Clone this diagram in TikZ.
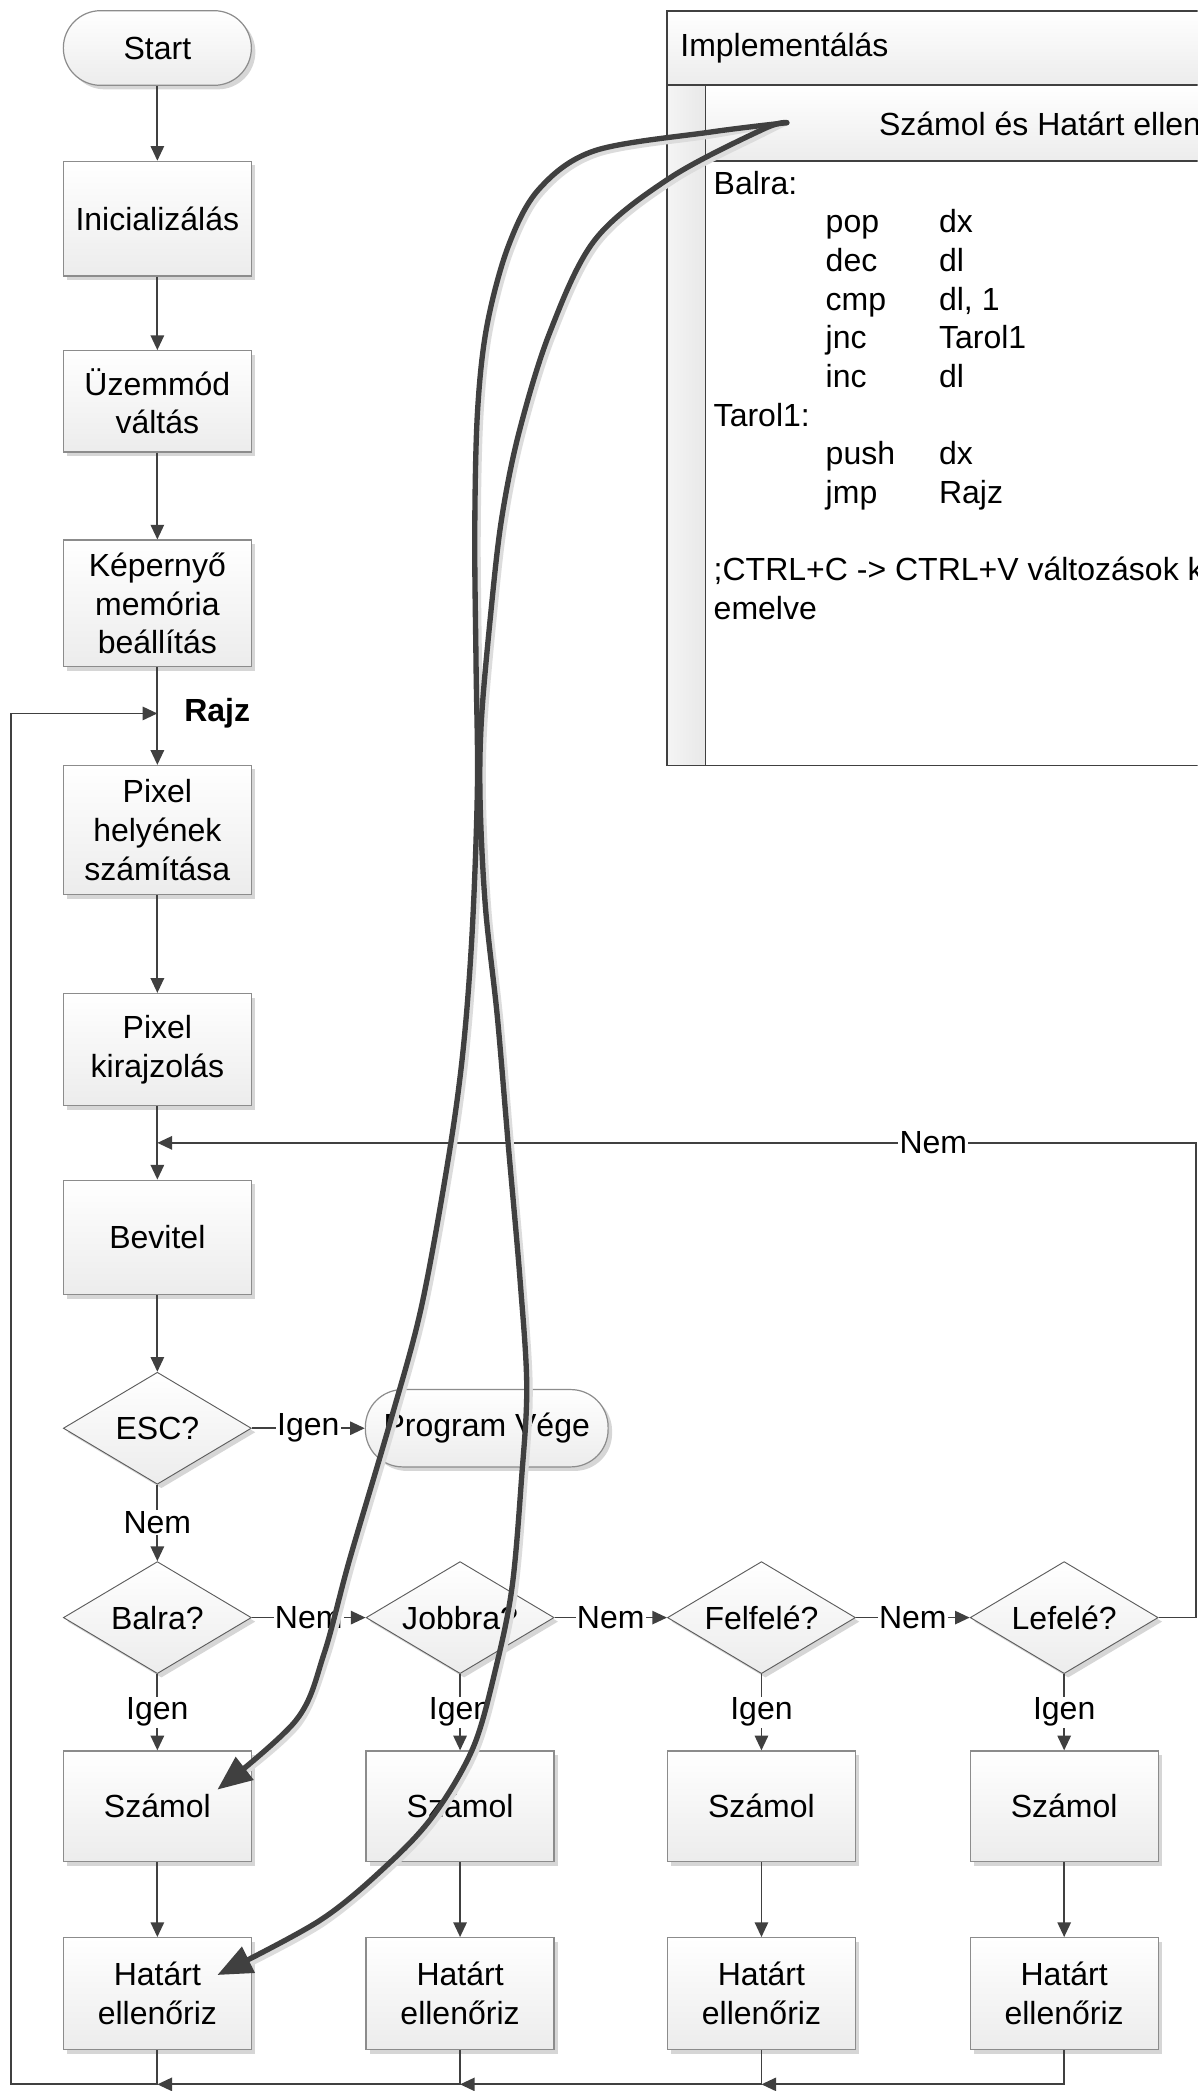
\documentclass[tikz,border=0pt]{standalone}
\usepackage{fontspec}
\setmainfont{Liberation Sans}
\usetikzlibrary{shapes.geometric,arrows.meta,shadows,calc}
\definecolor{ink}{HTML}{404040}
\definecolor{rim}{HTML}{8C8C8C}
\definecolor{shadelo}{HTML}{ECECEC}
\definecolor{halo}{HTML}{DCDCDC}

\tikzset{
  softshadow/.style={drop shadow={shadow xshift=3pt,shadow yshift=-3pt,opacity=0.16,fill=black}},
  proc/.style={rectangle, draw=rim, line width=0.9pt, top color=white, bottom color=shadelo,
    minimum width=141pt, inner sep=2pt, align=center, softshadow},
  term/.style={proc, rounded corners=28pt, minimum height=56pt},
  decision/.style={diamond, draw=ink!85, line width=0.7pt, top color=white, bottom color=shadelo,
    minimum width=141pt, minimum height=84pt, aspect=1.68, inner sep=0pt, softshadow},
  flow/.style={draw=ink, line width=1.3pt, -{Triangle[length=11pt,width=10pt]}},
  wire/.style={draw=ink, line width=1.3pt},
  tag/.style={fill=white, inner sep=1pt},
  codeline/.style={anchor=base west, inner sep=0pt},
  jump/.style={draw=ink, line width=4pt, line cap=round, -{Triangle[length=26pt,width=21pt]}},
  jumpshade/.style={draw=halo, line width=4pt, line cap=round},
}

\begin{document}
\begin{tikzpicture}[x=1pt, y=-1pt, font=\fontsize{24}{29}\selectfont]
\useasboundingbox (0,0) rectangle (898,1568);
\fill[white] (0,0) rectangle (898,1568);

% ---- implementation panel ----
\begin{scope}
  \clip (0,0) rectangle (898,1568);
  \shade[top color=white, bottom color=shadelo] (500,8) rectangle (960,64);
  \shade[left color=white!96!black, right color=black!9] (500,64) rectangle (529,574);
  \shade[top color=white, bottom color=shadelo] (529,64) rectangle (960,121);
  \draw[ink, line width=1.3pt] (500,8) rectangle (960,574);
  \draw[ink, line width=1.3pt] (500,64) -- (960,64);
  \draw[ink, line width=1.3pt] (529,64) -- (529,574);
  \draw[ink, line width=1.3pt] (529,121) -- (960,121);
\end{scope}
\node[anchor=west, inner sep=0pt] (ttl) at (510,36) {Implementálás};
\node[anchor=west, inner sep=0pt] (hdr) at (659,93) {Számol és Határt ellen};

\node[codeline] (l0)  at (535,145.5) {Balra:};
\node[codeline] (l1a) at (619,174.5) {pop};   \node[codeline] (l1b) at (704,174.5) {dx};
\node[codeline] (l2a) at (619,203.5) {dec};   \node[codeline] (l2b) at (704,203.5) {dl};
\node[codeline] (l3a) at (619,232.5) {cmp};   \node[codeline] (l3b) at (704,232.5) {dl, 1};
\node[codeline] (l4a) at (619,261.5) {jnc};   \node[codeline] (l4b) at (704,261.5) {Tarol1};
\node[codeline] (l5a) at (619,290.5) {inc};   \node[codeline] (l5b) at (704,290.5) {dl};
\node[codeline] (l6)  at (535,319.5) {Tarol1:};
\node[codeline] (l7a) at (619,348.5) {push};  \node[codeline] (l7b) at (704,348.5) {dx};
\node[codeline] (l8a) at (619,377.5) {jmp};   \node[codeline] (l8b) at (704,377.5) {Rajz};
\node[codeline] (l9)  at (535,435.5) {;CTRL+C -> CTRL+V változások k};
\node[codeline] (l10) at (535,464.5) {emelve};

% ---- main column ----
\node[term] (start) at (118,36) {Start};
\node[proc, minimum height=86pt] (init) at (118,164) {Inicializálás};
\node[proc, minimum height=76pt] (mode) at (118,301) {Üzemmód\\váltás};
\node[proc, minimum height=95pt] (vmem) at (118,452.5) {Képernyő\\memória\\beállítás};
\node[proc, minimum height=97pt] (pos) at (118,622.5) {Pixel\\helyének\\számítása};
\node[proc, minimum height=84pt] (px) at (118,787) {Pixel\\kirajzolás};
\node[proc, minimum height=86pt] (input) at (118,928) {Bevitel};
\node[decision] (esc) at (118,1071) {ESC?};
\node[term, minimum width=182pt, minimum height=58pt] (fin) at (365,1071) {Program Vége};

% ---- direction tests ----
\node[decision] (dl) at (118,1213) {Balra?};
\node[decision] (dr) at (345,1213) {Jobbra?};
\node[decision] (du) at (571,1213) {Felfelé?};
\node[decision] (dd) at (798,1213) {Lefelé?};

\node[proc, minimum height=83pt] (cl) at (118,1354.5) {Számol};
\node[proc, minimum height=83pt] (cr) at (345,1354.5) {Számol};
\node[proc, minimum height=83pt] (cu) at (571,1354.5) {Számol};
\node[proc, minimum height=83pt] (cd) at (798,1354.5) {Számol};

\node[proc, minimum height=84pt] (hl) at (118,1495) {Határt\\ellenőriz};
\node[proc, minimum height=84pt] (hr) at (345,1495) {Határt\\ellenőriz};
\node[proc, minimum height=84pt] (hu) at (571,1495) {Határt\\ellenőriz};
\node[proc, minimum height=84pt] (hd) at (798,1495) {Határt\\ellenőriz};

% ---- joints ----
\coordinate (rajz) at (118,535);
\node[anchor=west, inner sep=0pt, font=\fontsize{24}{29}\selectfont\bfseries] (rajzlbl) at (138,535) {Rajz};
\coordinate (merge) at (118,857);
\coordinate (rt) at (897,1213);
\coordinate (rtop) at (897,857);
\coordinate (b3) at (571,1563);
\coordinate (b2) at (345,1563);
\coordinate (b1) at (118,1563);
\coordinate (lc) at (8,1563);
\coordinate (lt) at (8,535);

% ---- connectors ----
\draw[flow] (start) -- (init);
\draw[flow] (init) -- (mode);
\draw[flow] (mode) -- (vmem);
\draw[flow] (vmem) -- (pos);
\draw[flow] (pos) -- (px);
\draw[flow] (px) -- (input);
\draw[flow] (input) -- (esc);
\draw[flow] (esc) -- node[tag]{Igen} (fin);
\draw[flow] (esc) -- node[tag]{Nem} (dl);
\draw[flow] (dl) -- node[tag]{Nem} (dr);
\draw[flow] (dr) -- node[tag]{Nem} (du);
\draw[flow] (du) -- node[tag]{Nem} (dd);
\draw[flow] (dd.east) -- (rt) -- (rtop) -- node[tag, pos=0.253]{Nem} (merge);

\draw[flow] (dl) -- node[tag]{Igen} (cl);
\draw[flow] (dr) -- node[tag]{Igen} (cr);
\draw[flow] (du) -- node[tag]{Igen} (cu);
\draw[flow] (dd) -- node[tag]{Igen} (cd);

\draw[flow] (cl) -- (hl);
\draw[flow] (cr) -- (hr);
\draw[flow] (cu) -- (hu);
\draw[flow] (cd) -- (hd);

\draw[flow] (hd.south) |- (b3);
\draw[flow] (hu.south) |- (b2);
\draw[flow] (hr.south) |- (b1);
\draw[flow] (hl.south) |- (lc) -- (lt) -- (rajz);

% ---- references from the code panel ----
\coordinate (src) at (590,92);
\coordinate (tipA) at (163,1342);
\coordinate (tipB) at (163,1481);

\draw[jumpshade, xshift=2.5pt, yshift=-2.5pt] plot[smooth, tension=0.55] coordinates {
  (src) (533,99) (446,113) (404,142) (381,185) (365,245) (358,310) (356,400) (357,500)
  (358,590) (354,700) (347,790) (336,870) (316,980) (293,1065) (262,1170) (243,1240)
  (222,1290) (177,1330)};
\draw[jumpshade, xshift=2.5pt, yshift=-2.5pt] plot[smooth, tension=0.55] coordinates {
  (src) (572,97) (503,133) (446,180) (412,250) (389,325) (376,390) (368,460) (361,540)
  (360,600) (364,680) (373,763) (381,857) (390,960) (395,1040) (391,1110) (384,1190)
  (372,1250) (355,1310) (326,1360) (292,1397) (240,1440) (177,1474)};

\draw[jump] plot[smooth, tension=0.55] coordinates {
  (src) (533,99) (446,113) (404,142) (381,185) (365,245) (358,310) (356,400) (357,500)
  (358,590) (354,700) (347,790) (336,870) (316,980) (293,1065) (262,1170) (243,1240)
  (222,1290) (tipA)};
\draw[jump] plot[smooth, tension=0.55] coordinates {
  (src) (572,97) (503,133) (446,180) (412,250) (389,325) (376,390) (368,460) (361,540)
  (360,600) (364,680) (373,763) (381,857) (390,960) (395,1040) (391,1110) (384,1190)
  (372,1250) (355,1310) (326,1360) (292,1397) (240,1440) (tipB)};
\end{tikzpicture}
\end{document}
